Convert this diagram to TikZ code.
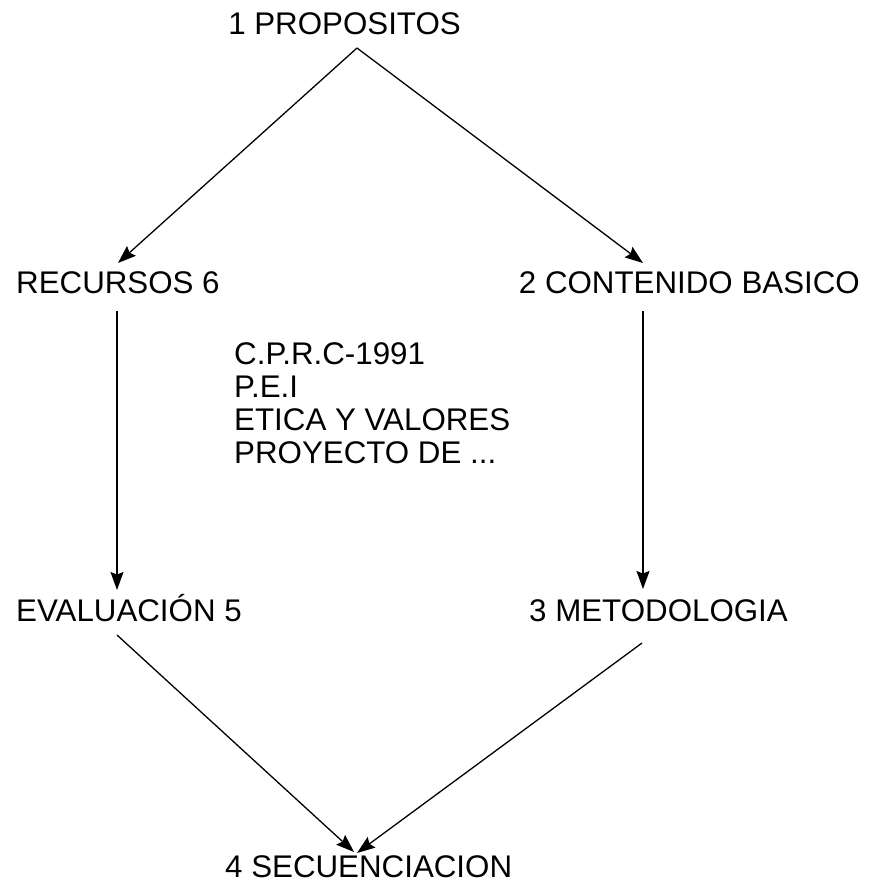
\documentclass[tikz,border=0pt]{standalone}
\usepackage{fontspec}
\setmainfont{Liberation Sans}
\usetikzlibrary{arrows.meta}
\begin{document}
\begin{tikzpicture}[x=1pt,y=-1pt,
  lbl/.style={inner sep=0pt,font=\fontsize{31.3}{33}\selectfont},
  conn/.style={line width=1.3pt,-{Stealth[length=18pt,width=13pt,inset=2.5pt]}}]
\useasboundingbox[fill=white] (0,0) rectangle (869,888);
\node[lbl,anchor=base] (p1) at (344.5,35) {1 PROPOSITOS};
\node[lbl,anchor=base west] (p6) at (16,293) {RECURSOS 6};
\node[lbl,anchor=base east] (p2) at (860,293) {2 CONTENIDO BASICO};
\node[lbl,anchor=base west] (p5) at (16,621) {EVALUACIÓN 5};
\node[lbl,anchor=base west] (p3) at (529,621) {3 METODOLOGIA};
\node[lbl,anchor=base west] (p4) at (225,877) {4 SECUENCIACION};
\node[lbl,anchor=north west,align=left] (mid) at (234,342) {C.P.R.C-1991\\P.E.I\\ETICA Y VALORES\\PROYECTO DE ...};
\coordinate (a1) at (357,48);
\coordinate (a6) at (118,263);
\coordinate (a2) at (643,263);
\coordinate (b6) at (117,311);
\coordinate (e6) at (117,590);
\coordinate (b2) at (643,311);
\coordinate (e2) at (643,589);
\coordinate (b5) at (117,635);
\coordinate (b3) at (642,643);
\coordinate (e45) at (354,852);
\coordinate (e43) at (357,853);
\draw[conn] (a1) -- (a6);
\draw[conn] (a1) -- (a2);
\draw[conn] (b6) -- (e6);
\draw[conn] (b2) -- (e2);
\draw[conn] (b5) -- (e45);
\draw[conn] (b3) -- (e43);
\end{tikzpicture}
\end{document}
